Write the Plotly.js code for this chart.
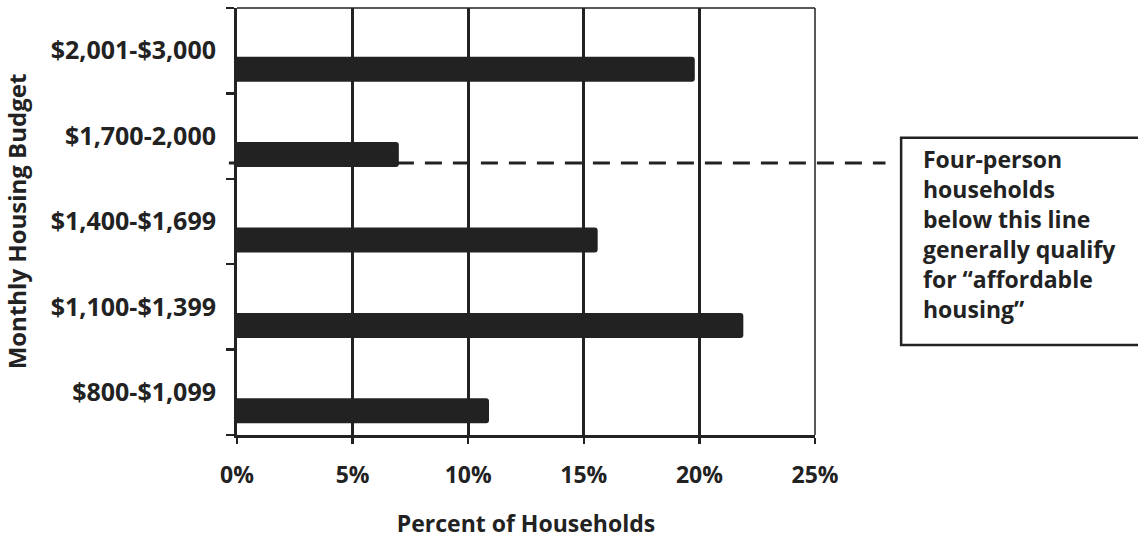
<!DOCTYPE html>
<html>
<head>
<meta charset="utf-8">
<script src="https://cdn.plot.ly/plotly-3.0.1.min.js"></script>
<style>
html, body { margin: 0; padding: 0; background: #fff; }
#chart { width: 1138px; height: 539px; }
</style>
</head>
<body>
<div id="chart"></div>
<script>
// Categories listed bottom to top
var budgetCategories = ["$800-$1,099", "$1,100-$1,399", "$1,400-$1,699", "$1,700-2,000", "$2,001-$3,000"];
var percentHouseholds = [10.9, 21.9, 15.6, 7.0, 19.8];
var xTickValues = [0, 5, 10, 15, 20, 25];
var xTickLabels = ["0%", "5%", "10%", "15%", "20%", "25%"];
var noteText = "Four-person<br>households<br>below this line<br>generally qualify<br>for \u201Caffordable<br>housing\u201D";

var ink = "#222222";
var fontFam = "'Open Sans', Lato, sans-serif";

var trace = {
  type: "bar",
  orientation: "h",
  y: budgetCategories,
  x: percentHouseholds,
  width: 0.293,
  offset: -0.363,
  marker: { color: ink, cornerradius: 3, line: { width: 0 } },
  hoverinfo: "x+y"
};

var layout = {
  width: 1138,
  height: 539,
  margin: { l: 237, r: 323, t: 8, b: 104 },
  paper_bgcolor: "#ffffff",
  plot_bgcolor: "#ffffff",
  showlegend: false,
  font: { family: fontFam, color: ink, size: 23, weight: "bold" },
  xaxis: {
    range: [0, 25],
    tickvals: xTickValues,
    ticktext: xTickLabels,
    showgrid: true,
    gridcolor: ink,
    gridwidth: 2.8,
    zeroline: false,
    showline: true,
    linecolor: ink,
    linewidth: 2.8,
    ticks: "outside",
    ticklen: 6,
    tickwidth: 2.5,
    tickcolor: ink,
    ticklabelstandoff: 12,
    tickfont: { family: fontFam, size: 23, color: ink, weight: "bold" },
    title: { text: "Percent of Households", standoff: 32, font: { family: fontFam, size: 23, color: ink, weight: "bold" } },
    fixedrange: true
  },
  yaxis: {
    type: "category",
    categoryorder: "array",
    categoryarray: budgetCategories,
    range: [-0.5, 4.5],
    tickson: "boundaries",
    showgrid: false,
    zeroline: false,
    showline: true,
    linecolor: ink,
    linewidth: 3,
    ticks: "outside",
    ticklen: 8,
    tickwidth: 2.5,
    tickcolor: ink,
    ticklabelstandoff: 13,
    tickfont: { family: fontFam, size: 25, color: ink, weight: "bold" },
    title: { text: "Monthly Housing Budget", standoff: 19, font: { family: fontFam, size: 24, color: ink, weight: "bold" } },
    fixedrange: true
  },
  shapes: [
    // top frame
    { type: "line", xref: "paper", yref: "paper", x0: 0, x1: 1, y0: 1, y1: 1, line: { color: ink, width: 1.5 }, layer: "above" },
    // right frame
    { type: "line", xref: "paper", yref: "paper", x0: 1, x1: 1, y0: 0, y1: 1, line: { color: ink, width: 1.5 }, layer: "above" },
    // dashed threshold line
    { type: "line", xref: "paper", yref: "y", x0: -0.014, x1: 1.122, y0: 2.685, y1: 2.685, line: { color: ink, width: 3.2, dash: "17px,11px" }, layer: "above" },
    // note box
    { type: "rect", xref: "paper", yref: "paper", x0: 1.149, x1: 1.565, y0: 0.211, y1: 0.696, line: { color: ink, width: 2.5 }, fillcolor: "rgba(0,0,0,0)", layer: "above" }
  ],
  annotations: [
    {
      xref: "paper", yref: "paper",
      x: 1.183, y: 0.688,
      xanchor: "left", yanchor: "top",
      align: "left",
      showarrow: false,
      text: noteText,
      font: { family: fontFam, size: 23, color: ink, weight: "bold" }
    }
  ]
};

Plotly.newPlot("chart", [trace], layout, { displayModeBar: false, staticPlot: true });
</script>
</body>
</html>
